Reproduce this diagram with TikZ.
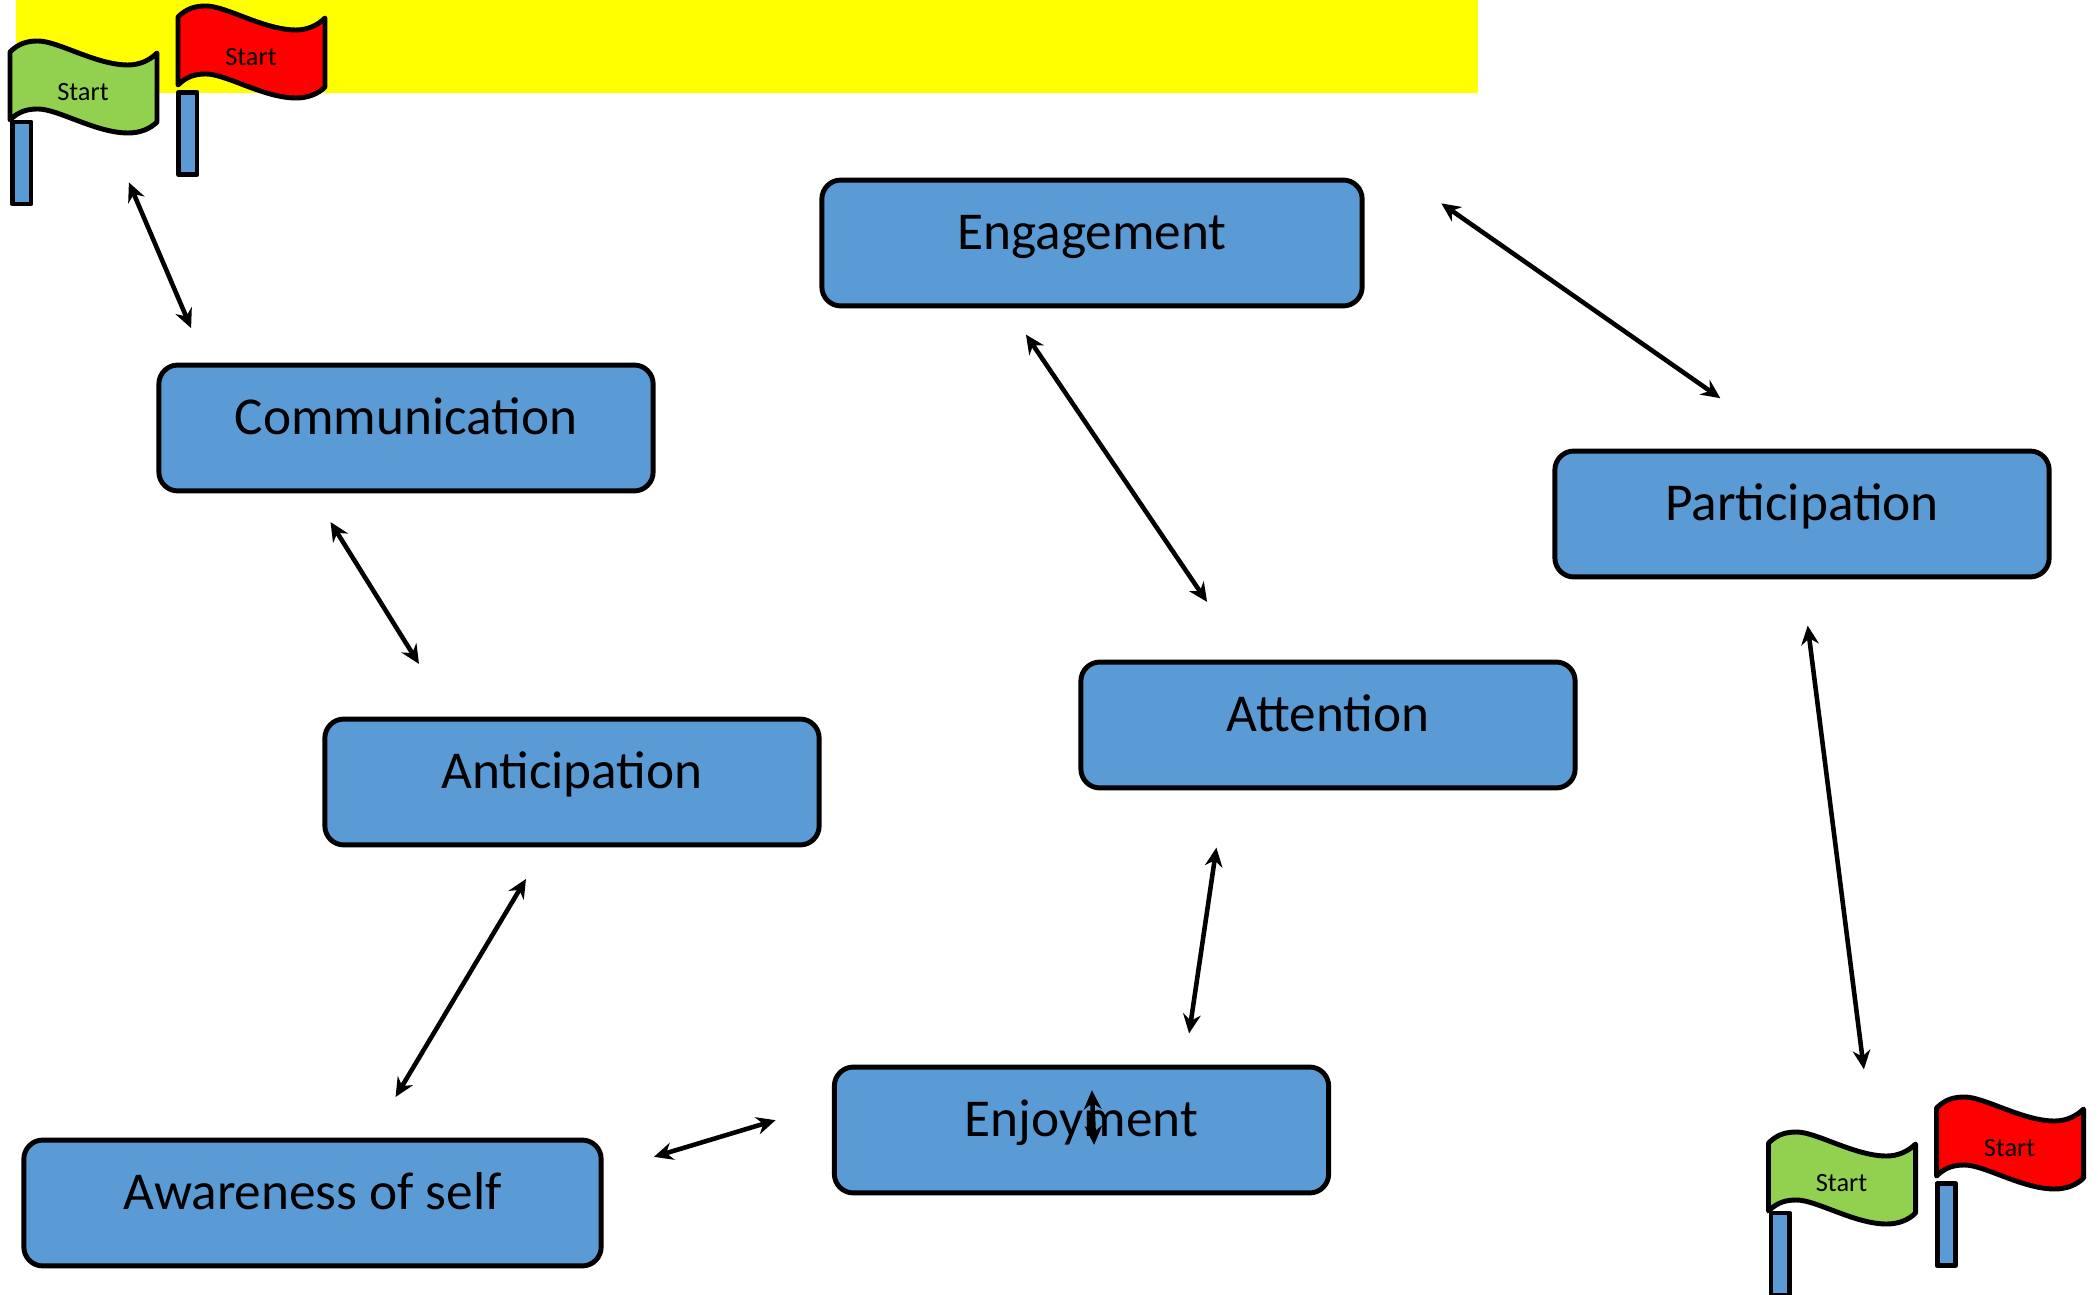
\documentclass[tikz,border=0pt]{standalone}
\usepackage{fontspec}
\setmainfont{Carlito}
\usetikzlibrary{arrows.meta}
\definecolor{boxblue}{HTML}{5B9BD5}
\definecolor{flaggreen}{HTML}{92D050}
\definecolor{flagred}{HTML}{FF0000}
\definecolor{bandyellow}{HTML}{FFFF00}
\newcommand{\startflag}[7]{
    \begin{scope}[shift={(#1,#2)}]
        \draw [flagline, fill=#5] (0,0) -- (0,68) .. controls (9,59) and (18,57) .. (28,57) .. controls (48,57) and (86,81) .. (118,81) .. controls (130,81) and (140,77) .. (147,70) -- (147,1) .. controls (140,8) and (130,13) .. (118,13) .. controls (86,13) and (48,-11) .. (28,-11) .. controls (18,-11) and (9,-9) .. (0,0) -- cycle;
    \end{scope}
    \draw [flagline, fill=boxblue] (#3,#4) rectangle ++(18.5,82);
    \node (#6) [flagtext] at (#1+73,#2+40) {#7};
}
\begin{document}
\begin{tikzpicture}[x=0.01cm,y=-0.01cm]
            \tikzstyle{stage} = [rectangle, draw=black, fill=boxblue, line width=1.4pt, rounded corners=5.4pt, inner sep=0pt, text width=4.94cm, align=flush center, text height=19.8pt, text depth=16pt, font=\fontsize{15.15}{18}\selectfont]
            \tikzstyle{flagline} = [draw=black, line width=1.4pt, line join=round]
            \tikzstyle{flagtext} = [inner sep=0pt, font=\fontsize{7.5}{9}\selectfont]
            \tikzstyle{arrow} = [line width=1.3pt, shorten <=-0.8pt, shorten >=-0.8pt, {Stealth[length=5.4pt,width=5pt]}-{Stealth[length=5.4pt,width=5pt]}]

            \useasboundingbox (0,0) rectangle (2098,1295);
            \fill [bandyellow] (16,0) rectangle (1478,93);

            \startflag{10}{52}{12.5}{122}{flaggreen}{greenflagtop}{Start}
            \startflag{178}{17}{178.5}{92.5}{flagred}{redflagtop}{Start}
            \startflag{1768.5}{1143}{1771}{1213}{flaggreen}{greenflagbottom}{Start}
            \startflag{1936.5}{1108}{1937}{1183.5}{flagred}{redflagbottom}{Start}

            \node (engagement) [stage, text width=5.4cm] at (1092,243) {Engagement};
            \node (communication) [stage] at (406,428) {Communication};
            \node (participation) [stage] at (1802,514) {Participation};
            \node (attention) [stage] at (1328,725) {Attention};
            \node (anticipation) [stage] at (572,782) {Anticipation};
            \node (enjoyment) [stage] at (1081.5,1130) {Enjoyment};
            \node (awareness) [stage, text width=5.77cm] at (312.5,1203) {Awareness of self};

            \draw [arrow] ([shift={(47,93)}]greenflagtop.center) -- ([shift={(-216,-37)}]communication.north);
            \draw [arrow] ([shift={(-74,31)}]communication.south) -- ([shift={(-154.5,-55)}]anticipation.north);
            \draw [arrow] ([shift={(-47.5,34)}]anticipation.south) -- ([shift={(84.5,-43)}]awareness.north);
            \draw [arrow] ([shift={(53,-47)}]awareness.east) -- ([shift={(-59,-9)}]enjoyment.west);
            \draw [arrow] ([shift={(10.5,-37)}]enjoyment.center) -- ([shift={(12.5,12)}]enjoyment.center);
            \draw [arrow] ([shift={(108,-34)}]enjoyment.north) -- ([shift={(-112,60)}]attention.south);
            \draw [arrow] ([shift={(-122.5,-60)}]attention.north) -- ([shift={(-64.5,28.5)}]engagement.south);
            \draw [arrow] ([shift={(79,-38)}]engagement.east) -- ([shift={(-84,-52)}]participation.north);
            \draw [arrow] ([shift={(6,49)}]participation.south) -- ([shift={(22,-116.5)}]greenflagbottom.center);
\end{tikzpicture}
\end{document}
